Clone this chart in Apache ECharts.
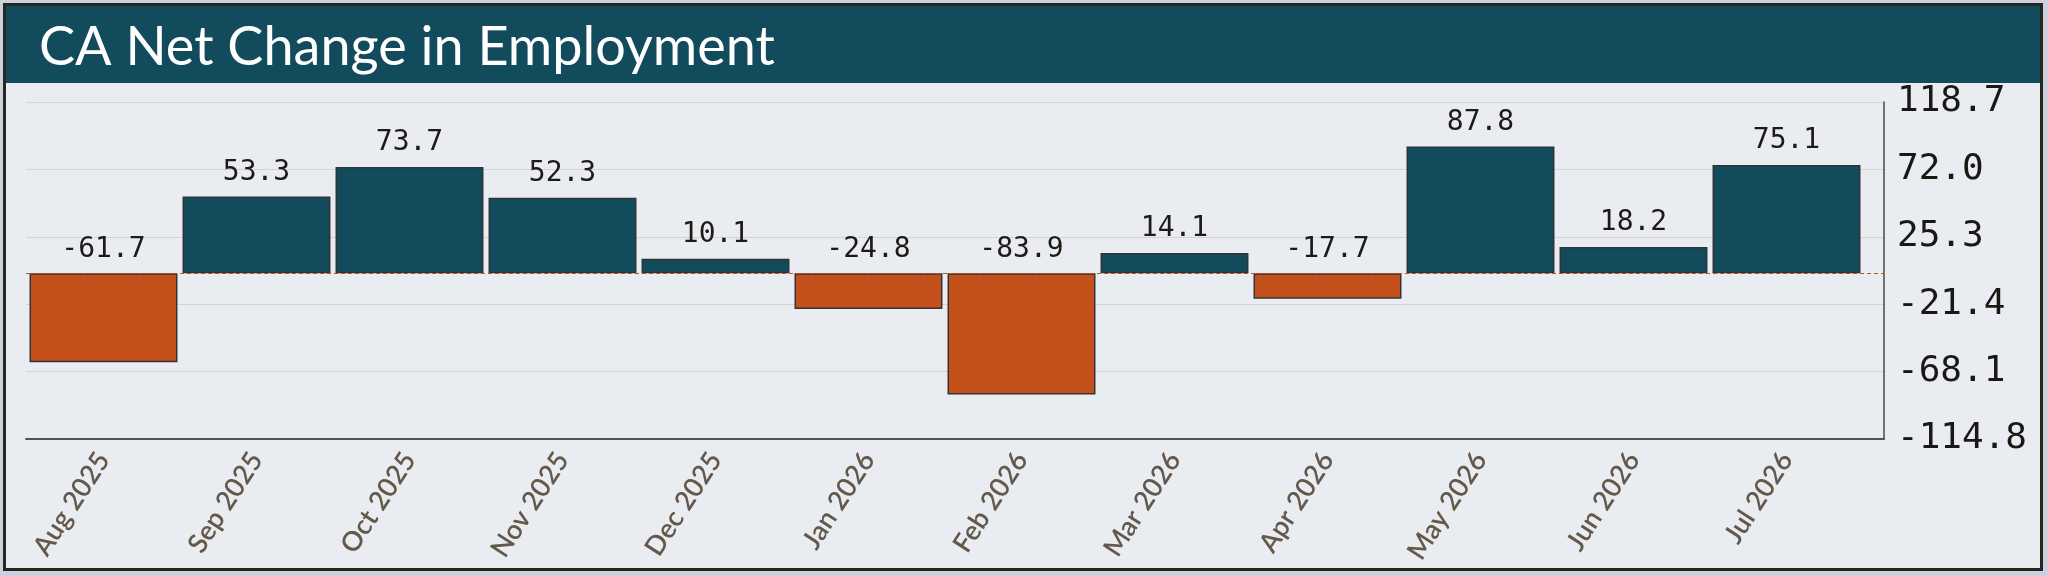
<!DOCTYPE html>
<html>
<head>
<meta charset="utf-8">
<script src="https://cdn.jsdelivr.net/npm/echarts@6/dist/echarts.min.js"></script>
<style>
  html, body { margin: 0; padding: 0; background: #cbd2dd; width: 2048px; height: 576px; overflow: hidden; }
  #card { position: absolute; left: 3px; top: 3px; width: 2034px; height: 562px; border: 3px solid #2b2521; background: #e9ecf1; }
  #band { position: absolute; left: 6px; top: 6px; width: 2034px; height: 77px; background: #124b5c; }
  #chart { position: absolute; left: 0; top: 0; width: 2048px; height: 576px; }
</style>
</head>
<body>
<div id="card"></div>
<div id="band"></div>
<div id="chart"></div>
<script>
const titleText = 'CA Net Change in Employment';
const months = ['Aug 2025', 'Sep 2025', 'Oct 2025', 'Nov 2025', 'Dec 2025', 'Jan 2026',
                'Feb 2026', 'Mar 2026', 'Apr 2026', 'May 2026', 'Jun 2026', 'Jul 2026'];
const netChange = [-61.7, 53.3, 73.7, 52.3, 10.1, -24.8, -83.9, 14.1, -17.7, 87.8, 18.2, 75.1];
const yTicks = [-114.8, -68.1, -21.4, 25.3, 72.0, 118.7];
const yMin = -114.8;
const yMax = 118.7;

const POS = '#124b5c';
const NEG = '#c4511c';

const chart = echarts.init(document.getElementById('chart'), null, { renderer: 'canvas' });

chart.setOption({
  backgroundColor: 'transparent',
  animation: false,
  title: {
    text: titleText,
    left: 34,
    top: 16,
    textStyle: { color: '#ffffff', fontFamily: 'Lato', fontWeight: 'normal', fontSize: 54 }
  },
  grid: [
    { left: 27, top: 102, width: 1836, height: 337, containLabel: false },
    { left: 26, top: 102, width: 1858, height: 337, containLabel: false }
  ],
  xAxis: [
    {
      type: 'category',
      gridIndex: 0,
      data: months,
      axisLine: { show: false },
      axisTick: { show: false },
      splitLine: { show: false },
      axisLabel: {
        rotate: 57,
        margin: 16,
        color: '#64584b',
        fontFamily: 'Lato',
        fontWeight: 600,
        fontSize: 27,
        interval: 0
      }
    },
    {
      type: 'value',
      gridIndex: 1,
      min: 0,
      max: 1,
      axisLine: { show: true, onZero: false, lineStyle: { color: '#58524b', width: 2 } },
      axisTick: { show: false },
      axisLabel: { show: false },
      splitLine: { show: false }
    }
  ],
  yAxis: [
    {
      type: 'value',
      gridIndex: 0,
      min: yMin,
      max: yMax,
      show: false
    },
    {
      type: 'value',
      gridIndex: 1,
      position: 'right',
      min: yMin,
      max: yMax,
      axisLine: { show: true, onZero: false, lineStyle: { color: '#4d4843', width: 1.5 } },
      axisTick: { show: false, customValues: yTicks },
      axisLabel: {
        customValues: yTicks,
        margin: 13,
        color: '#1a1714',
        fontFamily: 'DejaVu Sans Mono',
        fontSize: 36,
        formatter: v => Number(v).toFixed(1)
      },
      splitLine: { show: true, lineStyle: { color: '#d9d2c7', width: 1 } }
    }
  ],
  series: [
    {
      type: 'line',
      xAxisIndex: 1,
      yAxisIndex: 1,
      data: [],
      silent: true,
      z: 1,
      markLine: {
        silent: true,
        symbol: 'none',
        label: { show: false },
        lineStyle: { color: NEG, type: [4, 3], width: 1 },
        data: [{ yAxis: 0 }]
      }
    },
    {
      type: 'bar',
      xAxisIndex: 0,
      yAxisIndex: 0,
      barWidth: '96.7%',
      z: 2,
      data: netChange.map(v => ({
        value: v,
        itemStyle: { color: v < 0 ? NEG : POS, borderColor: '#333333', borderWidth: 1.5 }
      })),
      label: {
        show: true,
        position: 'top',
        distance: 10,
        color: '#1f1a17',
        fontFamily: 'DejaVu Sans Mono',
        fontSize: 28,
        formatter: p => Number(p.value).toFixed(1)
      }
    }
  ]
});
</script>
</body>
</html>
